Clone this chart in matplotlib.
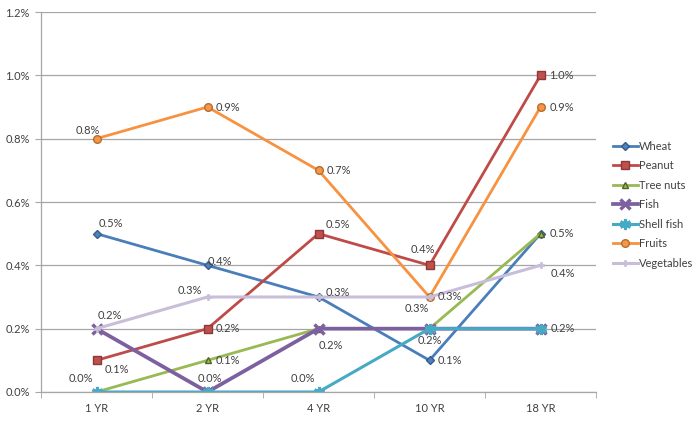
import numpy as np
import matplotlib.pyplot as plt
from matplotlib.ticker import FixedLocator, PercentFormatter

plt.rcParams['font.family'] = ['Lato', 'DejaVu Sans']

# 年龄段
ages = ['1 YR', '2 YR', '4 YR', '10 YR', '18 YR']
# 各类过敏比例 (%)
wheat = [0.5, 0.4, 0.3, 0.1, 0.5]
peanut = [0.1, 0.2, 0.5, 0.4, 1.0]
tree_nuts = [0.0, 0.1, 0.2, 0.2, 0.5]
fish = [0.2, 0.0, 0.2, 0.2, 0.2]
shell_fish = [0.0, 0.0, 0.0, 0.2, 0.2]
fruits = [0.8, 0.9, 0.7, 0.3, 0.9]
vegetables = [0.2, 0.3, 0.3, 0.3, 0.4]

series = {
    'Wheat': wheat,
    'Peanut': peanut,
    'Tree nuts': tree_nuts,
    'Fish': fish,
    'Shell fish': shell_fish,
    'Fruits': fruits,
    'Vegetables': vegetables,
}

# 线条样式: 线色, 线宽, 标记, 标记大小, 填充色, 边框色, 边框宽
styles = {
    'Wheat': ('#4A7EBB', 2.0, 'D', 4, '#4F81BD', '#385D8A', 1.0),
    'Peanut': ('#BE4B48', 2.0, 's', 5.5, '#C0504D', '#8C3836', 1.0),
    'Tree nuts': ('#98B954', 2.0, '^', 5, '#9BBB59', '#4F6228', 1.0),
    'Fish': ('#7D60A0', 2.7, 'x', 7, '#7D60A0', '#7D60A0', 2.5),
    'Shell fish': ('#46AAC5', 2.2, (6, 2, 0), 8, '#46AAC5', '#46AAC5', 2.2),
    'Fruits': ('#F69240', 2.0, 'o', 5.5, '#F79646', '#B66D31', 1.0),
    'Vegetables': ('#C9BEDA', 2.2, 'P', 5, '#C9BEDA', '#C9BEDA', 0.5),
}

# 数据标签: 系列, 位置, 偏移(像素)
labels = [
    ('Fruits', 0, -9, 8), ('Wheat', 0, 14, 10), ('Vegetables', 0, 13, 13),
    ('Peanut', 0, 20, -9), ('Tree nuts', 0, -16, 14),
    ('Fruits', 1, 20, 0), ('Wheat', 1, 12, 4), ('Vegetables', 1, -18, 7),
    ('Peanut', 1, 20, 0), ('Tree nuts', 1, 20, 0), ('Fish', 1, 2, 14),
    ('Fruits', 2, 20, 0), ('Peanut', 2, 19, 9), ('Wheat', 2, 19, 5),
    ('Fish', 2, 12, -17), ('Shell fish', 2, -16, 14),
    ('Peanut', 3, -7, 16), ('Vegetables', 3, 20, 0), ('Fruits', 3, -13, -12),
    ('Shell fish', 3, 0, -12), ('Wheat', 3, 20, 0),
    ('Peanut', 4, 21, 0), ('Fruits', 4, 21, 0), ('Tree nuts', 4, 21, 0),
    ('Vegetables', 4, 22, -8), ('Shell fish', 4, 22, 0),
]

text_color = '#404040'
grid_color = '#A6A6A6'

fig = plt.figure(figsize=(6.99, 4.22), dpi=100)
ax = fig.add_axes([41 / 699, 30 / 422, 555 / 699, 380 / 422])

x = np.arange(len(ages))
for name, vals in series.items():
    c, lw, m, ms, fc, ec, mew = styles[name]
    ax.plot(x, vals, color=c, lw=lw, marker=m, markersize=ms,
            markerfacecolor=fc, markeredgecolor=ec, markeredgewidth=mew,
            label=name, solid_joinstyle='round')

for name, i, dx, dy in labels:
    v = series[name][i]
    ax.annotate('%.1f%%' % v, (x[i], v), xytext=(dx, dy),
                textcoords='offset pixels', ha='center', va='center',
                fontsize=8, color=text_color)

ax.set_xlim(-0.5, len(ages) - 0.5)
ax.set_ylim(0, 1.2)
ax.set_xticks(x)
ax.set_xticklabels(ages)
ax.xaxis.set_minor_locator(FixedLocator(np.arange(-0.5, len(ages), 1.0)))
ax.tick_params(axis='x', which='major', length=0, pad=8,
               labelsize=8, labelcolor=text_color)
ax.tick_params(axis='x', which='minor', length=4, color=grid_color)
ax.set_yticks(np.arange(0, 1.21, 0.2))
ax.yaxis.set_major_formatter(PercentFormatter(decimals=1))
ax.tick_params(axis='y', length=4, color=grid_color, pad=4,
               labelsize=8, labelcolor=text_color)
ax.grid(axis='y', color=grid_color, lw=0.9)
ax.set_axisbelow(True)
for s in ['top', 'right']:
    ax.spines[s].set_visible(False)
for s in ['left', 'bottom']:
    ax.spines[s].set_color(grid_color)
    ax.spines[s].set_linewidth(0.9)

ax.legend(loc='center left', bbox_to_anchor=(0.862, 0.515),
          bbox_transform=fig.transFigure, frameon=False, fontsize=8,
          labelspacing=0.76, handlelength=2.3, handletextpad=0.1,
          labelcolor=text_color)

fig.savefig('out.png', dpi=100)
